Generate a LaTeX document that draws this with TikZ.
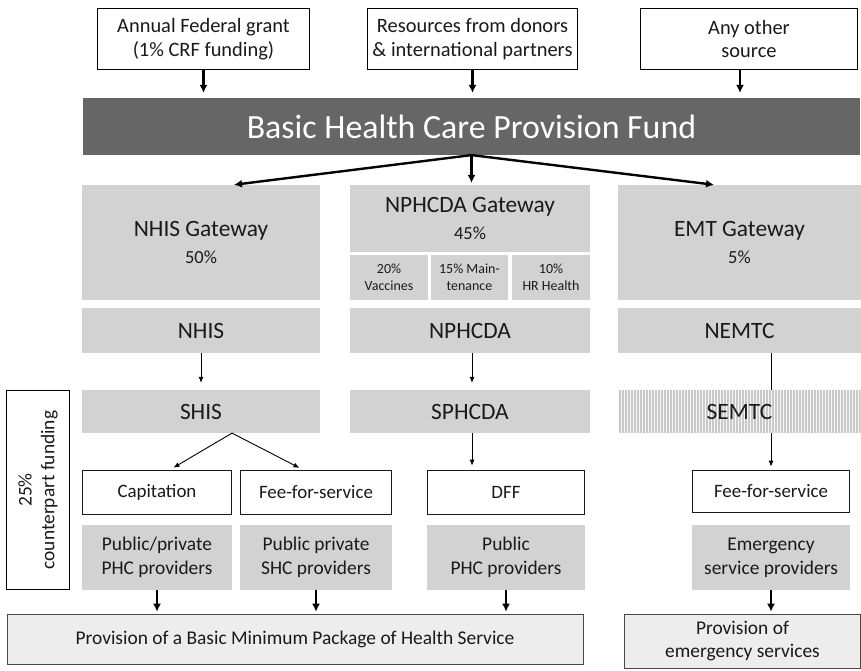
\documentclass[tikz,border=0pt]{standalone}
\usepackage{fontspec}
\setmainfont{Carlito}
\usetikzlibrary{shapes,arrows.meta,positioning,calc}

\definecolor{fundgray}{RGB}{102,102,102}
\definecolor{boxgray}{RGB}{210,210,210}
\definecolor{basegray}{RGB}{237,237,237}
\definecolor{inkgray}{RGB}{26,26,26}

\begin{document}
\begin{tikzpicture}[x=1bp, y=-1bp,
    every node/.style={inner sep=0pt, align=center, text=inkgray},
    srcbox/.style={rectangle, draw=black, line width=0.9bp, fill=white, font=\fontsize{20.5}{24}\selectfont},
    graybox/.style={rectangle, fill=boxgray, font=\fontsize{23.5}{27}\selectfont},
    subbox/.style={rectangle, fill=boxgray, font=\fontsize{14}{17}\selectfont, minimum height=45},
    paybox/.style={rectangle, draw=inkgray, line width=0.8bp, fill=white, font=\fontsize{19}{23}\selectfont},
    provbox/.style={rectangle, fill=boxgray, font=\fontsize{19.5}{24}\selectfont, minimum height=65},
    basebox/.style={rectangle, draw=inkgray!80, line width=0.8bp, fill=basegray, font=\fontsize{19.5}{24}\selectfont},
    bigarrow/.style={line width=2.4bp, -{Latex[length=8bp,width=8bp]}},
    thinarrow/.style={line width=0.9bp, -{Latex[length=6bp,width=5bp]}}]
    \useasboundingbox (0,0) rectangle (861,671);

    % Sources of money
    \node[srcbox, minimum width=213, minimum height=62] (src1) at (203.5,39) {Annual Federal grant\\(1\% CRF funding)};
    \node[srcbox, minimum width=211, minimum height=62] (src2) at (472.5,39) {Resources from donors\\\& international partners};
    \node[srcbox, minimum width=218, minimum height=62] (src3) at (749,39) {Any other\\source};

    \node[rectangle, fill=fundgray, text=white, minimum width=779, minimum height=57,
        font=\fontsize{34}{36}\selectfont] (fund) at (471.5,126.5) {Basic Health Care Provision Fund};

    % Gateways
    \node[graybox, minimum width=238, minimum height=115] (nhisgw) at (201,242.5) {NHIS Gateway\\[1pt]{\fontsize{18.5}{20}\selectfont 50\%}};
    \node[graybox, minimum width=240, minimum height=67] (npgw) at (470,218.5) {NPHCDA Gateway\\[0pt]{\fontsize{18.5}{20}\selectfont 45\%}};
    \node[subbox, minimum width=78] (vacc) at (389,277.5) {20\%\\Vaccines};
    \node[subbox, minimum width=77] (maint) at (469.5,277.5) {15\% Main-\\tenance};
    \node[subbox, minimum width=78] (hrh) at (551,277.5) {10\%\\HR Health};
    \node[graybox, minimum width=243, minimum height=115] (emtgw) at (739.5,242.5) {EMT Gateway\\[1pt]{\fontsize{18.5}{20}\selectfont 5\%}};

    % Federal agencies
    \node[graybox, minimum width=238, minimum height=45] (nhis) at (201,330.5) {NHIS};
    \node[graybox, minimum width=240, minimum height=45] (nphcda) at (470,330.5) {NPHCDA};
    \node[graybox, minimum width=243, minimum height=45] (nemtc) at (739.5,330.5) {NEMTC};

    % State agencies (SEMTC is only striped)
    \node[graybox, minimum width=238, minimum height=43] (shis) at (201,411.5) {SHIS};
    \node[graybox, minimum width=240, minimum height=43] (sphcda) at (470,411.5) {SPHCDA};
    \node[graybox, fill=gray!6, minimum width=243, minimum height=43,
        path picture={
            \foreach \i in {1.5,4.5,...,243}
                \draw[gray!42, line width=1.4bp] ($(path picture bounding box.north west)+(\i,0)$) -- ++(0,43);
        }] (semtc) at (739.5,411.5) {SEMTC};

    % Payment mechanisms
    \node[paybox, minimum width=150, minimum height=44] (capit) at (157,492) {Capitation};
    \node[paybox, minimum width=152, minimum height=44] (ffs) at (316,492) {Fee-for-service};
    \node[paybox, minimum width=158, minimum height=44] (dff) at (506,492) {DFF};
    \node[paybox, minimum width=158, minimum height=42] (ffsem) at (771,491) {Fee-for-service};

    % Providers
    \node[provbox, minimum width=150] (phcpp) at (157,557.5) {Public/private\\PHC providers};
    \node[provbox, minimum width=152] (shcpp) at (316,557.5) {Public private\\SHC providers};
    \node[provbox, minimum width=158] (phcpub) at (506,557.5) {Public\\PHC providers};
    \node[provbox, minimum width=158] (emgp) at (771,557.5) {Emergency\\service providers};

    % Outcomes
    \node[basebox, minimum width=578, minimum height=50] (bmphs) at (295,639) {Provision of a Basic Minimum Package of Health Service};
    \node[basebox, minimum width=237, minimum height=54] (emsvc) at (742.5,641) {Provision of\\emergency services};

    \node[rectangle, draw=black, line width=0.9bp, fill=white, rotate=90, minimum width=200, minimum height=64,
        font=\fontsize{19.5}{23}\selectfont] (counter) at (38,490) {25\%\\counterpart funding};

    \draw[bigarrow, shorten >=5bp] (src1.south) -- (src1.south |- fund.north);
    \draw[bigarrow, shorten >=5bp] (src2.south) -- (src2.south |- fund.north);
    \draw[bigarrow, shorten >=5bp] ($(src3.south)+(-9,0)$) -- ($(src3.south |- fund.north)+(-9,0)$);

    \draw[bigarrow, shorten >=2bp] (fund.south) -- ($(nhisgw.north)+(31,0)$);
    \draw[bigarrow, shorten >=2bp] (fund.south) -- (fund.south |- npgw.north);
    \draw[bigarrow, shorten >=2bp] (fund.south) -- ($(emtgw.north)+(-23.5,0)$);

    \draw[thinarrow, shorten >=7bp] (nhis.south) -- (nhis.south |- shis.north);
    \draw[thinarrow, shorten >=7bp] ($(nphcda.south)+(2,0)$) -- ($(nphcda.south |- sphcda.north)+(2,0)$);
    \draw[line width=0.9bp] (ffsem |- nemtc.south) -- (ffsem |- semtc.north);

    \draw[thinarrow, shorten >=4bp] ($(shis.south)+(31,0)$) -- ($(capit.north)+(13,0)$);
    \draw[thinarrow, shorten >=4bp] ($(shis.south)+(31,0)$) -- ($(ffs.north)+(-13,0)$);
    \draw[thinarrow, shorten >=4bp] ($(sphcda.south)+(2,0)$) -- ($(sphcda.south |- dff.north)+(2,0)$);
    \draw[thinarrow, shorten >=3bp] (ffsem |- semtc.south) -- (ffsem.north);

    \draw[bigarrow, shorten >=2bp] (phcpp.south) -- (phcpp.south |- bmphs.north);
    \draw[bigarrow, shorten >=2bp] (shcpp.south) -- (shcpp.south |- bmphs.north);
    \draw[bigarrow, shorten >=2bp] (phcpub.south) -- (phcpub.south |- bmphs.north);
    \draw[bigarrow, shorten >=2bp] (emgp.south) -- (emgp.south |- emsvc.north);
\end{tikzpicture}
\end{document}
